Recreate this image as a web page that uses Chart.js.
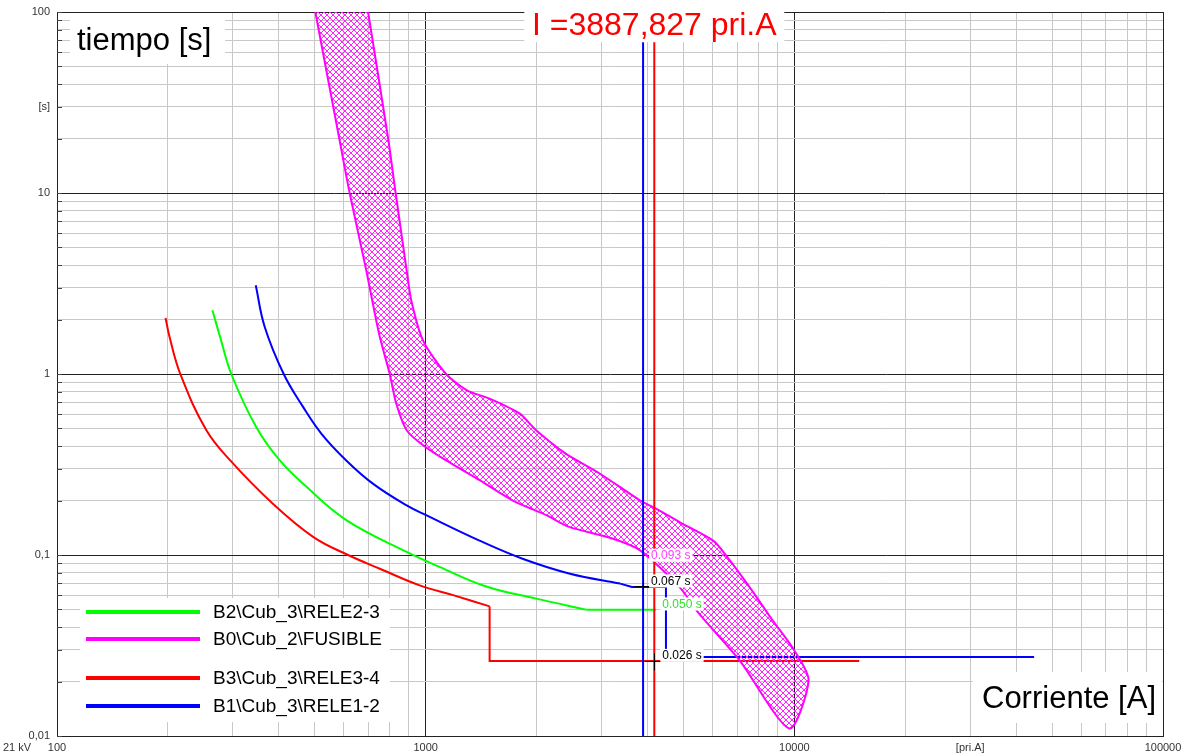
<!DOCTYPE html>
<html>
<head>
<meta charset="utf-8">
<script src="https://cdn.jsdelivr.net/npm/chart.js@4.4.0/dist/chart.umd.min.js"></script>
<style>
  html, body { margin: 0; padding: 0; background: #fff; }
</style>
</head>
<body>
<canvas id="myChart" width="1182" height="755"></canvas>
<script>
'use strict';
// ticks
const xTickValues = [100, 1000, 10000, 100000];
const xTickText = ['100', '1000', '10000', '100000'];
const yTickValues = [0.01, 0.1, 1, 10, 100];
const yTickText = ['0,01', '0,1', '1', '10', '100'];
const xUnitAt = 30000;
const xUnitText = '[pri.A]';
const yUnitAt = 30;
const yUnitText = '[s]';

// series names (legend)
const seriesNames = ['B2\\Cub_3\\RELE2-3', 'B0\\Cub_2\\FUSIBLE', 'B3\\Cub_3\\RELE3-4', 'B1\\Cub_3\\RELE1-2'];

// RELE3-4 (red) current [A] / time [s]: inverse-time part, then definite-time steps
const rele34I = [197, 202, 216, 254, 295, 385, 495, 616, 751, 963, 1187, 1491];
const rele34T = [2.04, 1.6, 1, 0.49, 0.333, 0.192, 0.126, 0.1, 0.084, 0.068, 0.060, 0.052];
const rele34StepI = [1491, 1491, 15000];
const rele34StepT = [0.052, 0.026, 0.026];

// RELE2-3 (green)
const rele23I = [264, 277, 297, 347, 401, 475, 609, 888, 1090, 1460, 1994, 2728];
const rele23T = [2.25, 1.6, 1, 0.509, 0.335, 0.238, 0.156, 0.104, 0.086, 0.067, 0.0574, 0.0499];
const rele23StepI = [2728, 4214];
const rele23StepT = [0.0499, 0.0499];

// RELE1-2 (blue)
const rele12I = [346, 366, 412, 465, 521, 609, 719, 888, 1003, 1400, 1839, 2463, 3371];
const rele12T = [3.09, 1.82, 1, 0.658, 0.469, 0.333, 0.248, 0.188, 0.166, 0.12, 0.095, 0.0788, 0.0695];
const rele12StepI = [3371, 3625, 4485, 4485, 44700];
const rele12StepT = [0.0695, 0.0665, 0.0665, 0.0273, 0.0273];

// FUSIBLE band: minimum melting edge (top -> bottom) and total clearing edge (bottom -> top)
const fuseMinI = [472, 502, 583, 622, 690, 719, 751, 799, 832, 888, 990, 1136, 1400, 1724, 2126, 2450, 3223, 3818, 4883, 5516, 7104, 9688];
const fuseMinT = [200, 100, 20, 10, 3.74, 2.45, 1.6, 1, 0.687, 0.489, 0.40, 0.333, 0.259, 0.2, 0.166, 0.143, 0.123, 0.106, 0.0665, 0.0474, 0.0262, 0.011];
const fuseMaxI = [10930, 10000, 8728, 7562, 6518, 6023, 4883, 4227, 3818, 2964, 2398, 1994, 1800, 1491, 1294, 1136, 984, 914, 888, 829, 791, 698, 662];
const fuseMaxT = [0.0203, 0.0297, 0.0436, 0.0665, 0.0999, 0.12, 0.152, 0.18, 0.2, 0.282, 0.363, 0.489, 0.604, 0.731, 0.813, 1, 1.53, 2.55, 3.74, 10, 20, 100, 200];

// cursors
const blueCursorI = 3887.827;
const redCursorI = 4170;
const cursorT = [0.01, 68];
const cursorTitle = 'I =3887,827 pri.A';

// read-out labels at the cursors
const labelTexts = ['0.093 s', '0.067 s', '0.050 s', '0.026 s'];
const labelTimes = [0.093, 0.067, 0.050, 0.026];
const labelAtI = [blueCursorI, blueCursorI, redCursorI, redCursorI];
const labelColors = ['#ff40ff', '#000000', '#30e030', '#000000'];
const markI = [blueCursorI, redCursorI];
const markT = [0.067, 0.026];

const FONT = '"Liberation Sans", Arial, sans-serif';

function pts(xs, ys) {
  let out = [];
  for (let i = 0; i < xs.length; i++) {
    out.push({ x: xs[i], y: ys[i] });
  }
  return out;
}

function isDecade(v) {
  const l = Math.log10(v);
  return Math.abs(l - Math.round(l)) < 1e-9;
}

function logTicks(min, max) {
  let t = [];
  for (let e = Math.round(Math.log10(min)); e < Math.round(Math.log10(max)); e++) {
    for (let k = 1; k < 10; k++) {
      t.push({ value: parseFloat((k * Math.pow(10, e)).toPrecision(6)) });
    }
  }
  t.push({ value: max });
  return t;
}

function findLabel(v, vals, texts) {
  for (let i = 0; i < vals.length; i++) {
    if (Math.abs(v / vals[i] - 1) < 1e-6) return texts[i];
  }
  return '';
}

// crisp 6px diamond cross-hatch
function hatch() {
  const n = 6;
  const c = document.createElement('canvas');
  c.width = n;
  c.height = n;
  const g = c.getContext('2d');
  g.fillStyle = '#ff22ff';
  for (let i = 0; i < n; i++) {
    g.fillRect(i, i, 1, 1);
    g.fillRect(n - 1 - i, i, 1, 1);
  }
  return g.createPattern(c, 'repeat');
}

let fusePts = pts(fuseMinI, fuseMinT).concat(pts(fuseMaxI, fuseMaxT));
fusePts.push(fusePts[0]);

function boxText(c, text, color, x, y, box) {
  c.fillStyle = '#fff';
  c.fillRect(box[0], box[1], box[2], box[3]);
  c.fillStyle = color;
  c.fillText(text, x, y);
}

const overlay = {
  id: 'overlay',
  beforeDatasetsDraw(chart) {
    // short dark ticks inside the time axis
    const c = chart.ctx;
    const ys = chart.scales.y;
    const a = chart.chartArea;
    c.save();
    c.strokeStyle = '#444';
    c.lineWidth = 1;
    c.beginPath();
    ys.ticks.forEach(t => {
      const py = Math.round(ys.getPixelForValue(t.value)) + 0.5;
      c.moveTo(a.left, py);
      c.lineTo(a.left + 5, py);
    });
    c.stroke();
    c.restore();
  },
  afterDatasetsDraw(chart) {
    const c = chart.ctx;
    const xs = chart.scales.x;
    const ys = chart.scales.y;
    const a = chart.chartArea;
    c.save();

    // small cross marks
    c.strokeStyle = '#000';
    c.lineWidth = 1;
    for (let i = 0; i < markI.length; i++) {
      const px = Math.round(xs.getPixelForValue(markI[i])) + 0.5;
      const py = Math.round(ys.getPixelForValue(markT[i])) + 0.5;
      c.beginPath();
      c.moveTo(px - 9, py); c.lineTo(px + 9, py);
      c.moveTo(px, py - 8); c.lineTo(px, py + 9);
      c.stroke();
    }

    // cursor read-outs
    c.font = '12px ' + FONT;
    c.textBaseline = 'bottom';
    c.textAlign = 'left';
    for (let i = 0; i < labelTexts.length; i++) {
      const tx = xs.getPixelForValue(labelAtI[i]) + 8;
      const ty = ys.getPixelForValue(labelTimes[i]) + 1;
      const w = c.measureText(labelTexts[i]).width;
      boxText(c, labelTexts[i], labelColors[i], tx, ty, [tx - 2, ty - 13, w + 4, 13]);
    }

    // axis captions
    c.font = '31px ' + FONT;
    c.textBaseline = 'alphabetic';
    c.textAlign = 'left';
    boxText(c, 'tiempo [s]', '#000', a.left + 20, a.top + 38, [a.left + 13, a.top + 1, 155, 51]);
    c.textAlign = 'right';
    boxText(c, 'Corriente [A]', '#000', a.right - 7, a.bottom - 28, [a.right - 190, a.bottom - 64, 189, 51]);

    // cursor title
    const rx = xs.getPixelForValue(redCursorI);
    c.font = '32px ' + FONT;
    c.textAlign = 'center';
    boxText(c, cursorTitle, '#ff0000', rx, a.top + 23, [rx - 130, a.top - 2, 260, 32]);

    // legend
    const rowsY = [124, 97, 58, 30];
    c.fillStyle = '#fff';
    c.fillRect(a.left + 23, a.bottom - 138, 310, 124);
    c.font = '19px ' + FONT;
    c.textAlign = 'left';
    c.textBaseline = 'middle';
    c.lineWidth = 4;
    const ds = chart.data.datasets;
    for (let r = 0; r < seriesNames.length; r++) {
      const d = ds.find(s => s.label === seriesNames[r]);
      const y = a.bottom - rowsY[r];
      c.strokeStyle = d.borderColor;
      c.beginPath();
      c.moveTo(a.left + 29, y);
      c.lineTo(a.left + 143, y);
      c.stroke();
      c.fillStyle = '#000';
      c.fillText(seriesNames[r], a.left + 156, y + 1);
    }

    c.restore();
  },
  afterDraw(chart) {
    const c = chart.ctx;
    c.save();
    c.font = '11px ' + FONT;
    c.fillStyle = '#333';
    c.textAlign = 'left';
    c.textBaseline = 'middle';
    c.fillText('21 kV', 3, 748);
    c.restore();
  }
};

function curve(label, xs, ys, color, smooth, order) {
  return {
    label: label, data: pts(xs, ys), showLine: true, borderColor: color,
    borderWidth: 2, pointRadius: 0, fill: false, tension: smooth, order: order
  };
}

function noPad(s) {
  s.paddingLeft = 0;
  s.paddingRight = 0;
  s.paddingTop = 0;
  s.paddingBottom = 0;
}

const ctx = document.getElementById('myChart').getContext('2d');
const myChart = new Chart(ctx, {
  type: 'scatter',
  data: {
    datasets: [
      curve(seriesNames[0], rele23I, rele23T, '#00ff00', 0.4, 2),
      curve('rele23 step', rele23StepI, rele23StepT, '#00ff00', 0, 2),
      {
        label: seriesNames[1], data: fusePts, showLine: true,
        borderColor: '#ff00ff', borderWidth: 2, pointRadius: 0, fill: 'shape',
        backgroundColor: hatch(), tension: 0.25, order: 1
      },
      curve(seriesNames[2], rele34I, rele34T, '#ff0000', 0.4, 2),
      curve('rele34 step', rele34StepI, rele34StepT, '#ff0000', 0, 2),
      curve(seriesNames[3], rele12I, rele12T, '#0000ff', 0.4, 2),
      curve('rele12 step', rele12StepI, rele12StepT, '#0000ff', 0, 2),
      curve('cursor1', [blueCursorI, blueCursorI], cursorT, '#0000ff', 0, 0),
      curve('cursor2', [redCursorI, redCursorI], cursorT, '#ff0000', 0, 0)
    ]
  },
  options: {
    responsive: false,
    animation: false,
    events: [],
    layout: { padding: { top: 12, right: 19, bottom: 0, left: 0 }, autoPadding: false },
    plugins: { legend: { display: false }, tooltip: { enabled: false } },
    scales: {
      x: {
        type: 'logarithmic',
        min: 100,
        max: 100000,
        afterBuildTicks: s => { s.ticks = logTicks(100, 100000); },
        afterFit: s => { s.height = 19; noPad(s); },
        ticks: {
          autoSkip: false,
          maxRotation: 0,
          padding: 5,
          color: '#333',
          font: { size: 11, family: FONT },
          callback: v => v === xUnitAt ? xUnitText : findLabel(v, xTickValues, xTickText)
        },
        grid: {
          drawTicks: false,
          lineWidth: 1,
          color: c => (c.tick && isDecade(c.tick.value)) ? '#222' : '#c8c8c8'
        },
        border: { color: '#222', width: 1 }
      },
      y: {
        type: 'logarithmic',
        min: 0.01,
        max: 100,
        afterBuildTicks: s => { s.ticks = logTicks(0.01, 100); },
        afterFit: s => { s.width = 57; noPad(s); },
        ticks: {
          autoSkip: false,
          padding: 7,
          color: '#333',
          font: { size: 11, family: FONT },
          callback: v => Math.abs(v - yUnitAt) < 1e-9 ? yUnitText : findLabel(v, yTickValues, yTickText)
        },
        grid: {
          drawTicks: false,
          lineWidth: 1,
          color: c => (c.tick && isDecade(c.tick.value)) ? '#222' : '#c8c8c8'
        },
        border: { color: '#222', width: 1 }
      }
    }
  },
  plugins: [overlay]
});
</script>
</body>
</html>
